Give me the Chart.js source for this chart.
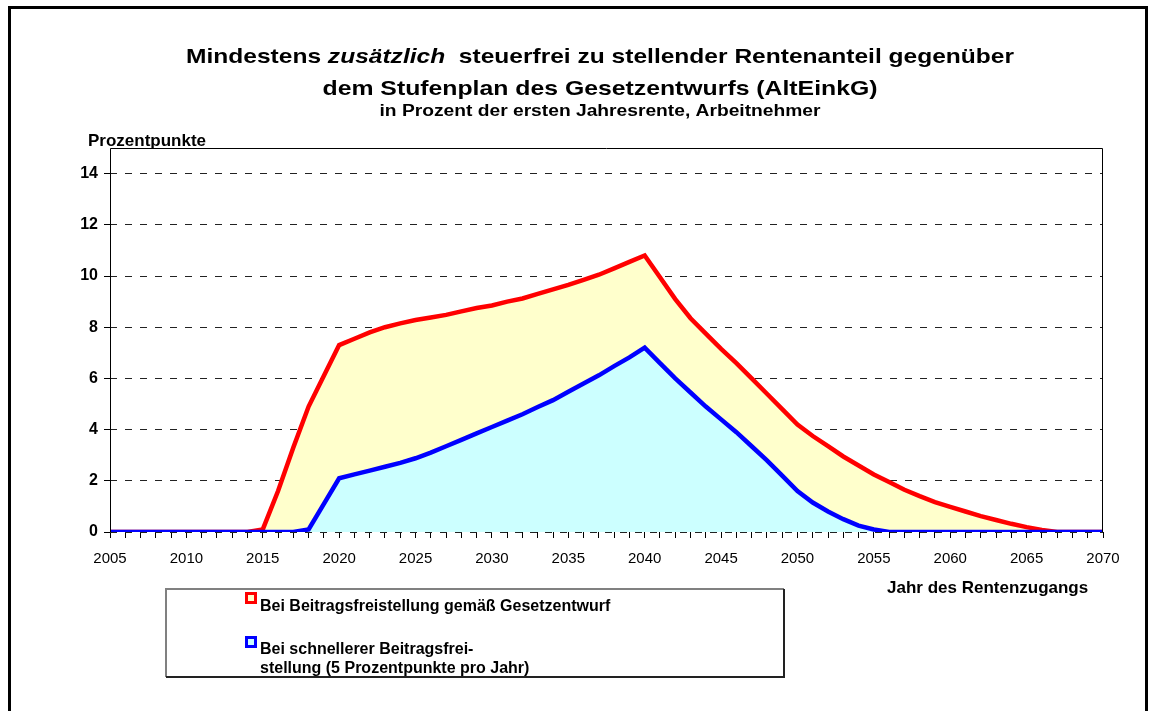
<!DOCTYPE html>
<html><head><meta charset="utf-8">
<script src="https://cdn.jsdelivr.net/npm/chart.js@4.4.1/dist/chart.umd.min.js"></script>
<style>html,body{margin:0;padding:0;background:#fff;overflow:hidden}</style>
</head><body>
<canvas id="c" width="1149" height="711"></canvas>
<script>
// ---- data ----
const years = [2005,2006,2007,2008,2009,2010,2011,2012,2013,2014,
  2015,2016,2017,2018,2019,2020,2021,2022,2023,2024,
  2025,2026,2027,2028,2029,2030,2031,2032,2033,2034,
  2035,2036,2037,2038,2039,2040,2041,2042,2043,2044,
  2045,2046,2047,2048,2049,2050,2051,2052,2053,2054,
  2055,2056,2057,2058,2059,2060,2061,2062,2063,2064,
  2065,2066,2067,2068,2069,2070];
const redValues = [0,0,0,0,0,0,0,0,0,0,
  0.1,1.6,3.3,4.9,6.1,7.3,7.55,7.8,8.0,8.15,
  8.28,8.38,8.48,8.62,8.75,8.85,9.0,9.12,9.3,9.48,
  9.65,9.85,10.05,10.3,10.55,10.8,9.95,9.1,8.35,7.75,
  7.15,6.6,6.0,5.4,4.8,4.2,3.75,3.35,2.95,2.6,
  2.25,1.95,1.65,1.4,1.17,0.98,0.8,0.62,0.47,0.32,
  0.19,0.08,0,0,0,0];
const blueValues = [0,0,0,0,0,0,0,0,0,0,
  0,0,0,0.1,1.1,2.1,2.25,2.4,2.55,2.7,
  2.88,3.1,3.35,3.6,3.85,4.1,4.35,4.6,4.88,5.15,
  5.48,5.8,6.12,6.48,6.82,7.2,6.6,6.0,5.45,4.9,
  4.4,3.9,3.35,2.8,2.2,1.6,1.15,0.8,0.5,0.25,
  0.1,0,0,0,0,0,0,0,0,0,
  0,0,0,0,0,0];
const yTickValues = [0,2,4,6,8,10,12,14];
const xLabelYears = [2005,2010,2015,2020,2025,2030,2035,2040,2045,2050,2055,2060,2065,2070];
const seriesNames = ['Bei Beitragsfreistellung gemäß Gesetzentwurf',
  'Bei schnellerer Beitragsfrei-', 'stellung (5 Prozentpunkte pro Jahr)'];
const titleRuns = [['Mindestens ', false], ['zusätzlich', true], ['  steuerfrei zu stellender Rentenanteil gegenüber', false]];
const titleLine2 = 'dem Stufenplan des Gesetzentwurfs (AltEinkG)';
const subtitle = 'in Prozent der ersten Jahresrente, Arbeitnehmer';
const yAxisTitle = 'Prozentpunkte';
const xAxisTitle = 'Jahr des Rentenzugangs';

const FF = '"Liberation Sans", Arial, Helvetica, sans-serif';

function drawRuns(ctx, runs, cx, base, size, targetW) {
  ctx.save();
  let total = 0;
  const widths = runs.map(r => { ctx.font = (r[1] ? 'italic ' : '') + 'bold ' + size + 'px ' + FF; const w = ctx.measureText(r[0]).width; total += w; return w; });
  const sx = targetW / total;
  ctx.translate(cx, base);
  ctx.scale(sx, 1);
  let x = -total / 2;
  ctx.textBaseline = 'alphabetic';
  ctx.textAlign = 'left';
  ctx.fillStyle = '#000';
  runs.forEach((r, i) => { ctx.font = (r[1] ? 'italic ' : '') + 'bold ' + size + 'px ' + FF; ctx.fillText(r[0], x, 0); x += widths[i]; });
  ctx.restore();
}

const decor = {
  id: 'decor',
  beforeDraw(chart) {
    const ctx = chart.ctx;
    ctx.save();
    ctx.fillStyle = '#fff';
    ctx.fillRect(0, 0, chart.width, chart.height);
    ctx.lineWidth = 3;
    ctx.strokeStyle = '#000';
    ctx.strokeRect(9.5, 7.5, 1137, 730);
    ctx.restore();
  },
  afterDatasetsDraw(chart) {
    const ctx = chart.ctx, a = chart.chartArea;
    ctx.save();
    ctx.strokeStyle = '#000';
    ctx.lineWidth = 1;
    ctx.beginPath();
    ctx.moveTo(Math.round(a.left) + 0.5, Math.round(a.bottom));
    ctx.lineTo(Math.round(a.left) + 0.5, Math.round(a.top) + 0.5);
    ctx.lineTo(Math.round(a.right) - 0.5, Math.round(a.top) + 0.5);
    ctx.lineTo(Math.round(a.right) - 0.5, Math.round(a.bottom));
    ctx.stroke();
    ctx.restore();
  },
  afterDraw(chart) {
    const ctx = chart.ctx;
    drawRuns(ctx, titleRuns, 600, 63, 21, 828);
    drawRuns(ctx, [[titleLine2, false]], 600, 95, 21, 555);
    drawRuns(ctx, [[subtitle, false]], 600, 116, 16, 441);
    ctx.save();
    ctx.fillStyle = '#000';
    ctx.textBaseline = 'alphabetic';
    ctx.textAlign = 'left';
    ctx.font = 'bold 17px ' + FF;
    ctx.fillText(yAxisTitle, 88, 146);
    ctx.fillText(xAxisTitle, 887, 593);
    // legend box
    ctx.fillStyle = '#fff';
    ctx.fillRect(166, 589, 618, 88);
    ctx.lineWidth = 2;
    ctx.strokeStyle = '#808080';
    ctx.beginPath(); ctx.moveTo(166, 677); ctx.lineTo(166, 589); ctx.lineTo(784, 589); ctx.stroke();
    ctx.strokeStyle = '#222';
    ctx.beginPath(); ctx.moveTo(784, 589); ctx.lineTo(784, 677); ctx.lineTo(166, 677); ctx.stroke();
    const ds = chart.data.datasets;
    const marks = [[ds[0], 592], [ds[1], 636]];
    marks.forEach(([d, y]) => {
      ctx.fillStyle = d.backgroundColor;
      ctx.fillRect(245, y, 12, 12);
      ctx.lineWidth = 3;
      ctx.strokeStyle = d.borderColor;
      ctx.strokeRect(246.5, y + 1.5, 9, 9);
    });
    ctx.fillStyle = '#000';
    ctx.font = 'bold 16px ' + FF;
    ctx.fillText(seriesNames[0], 260, 611);
    ctx.fillText(seriesNames[1], 260, 654);
    ctx.fillText(seriesNames[2], 260, 673);
    ctx.restore();
  }
};

new Chart(document.getElementById('c'), {
  type: 'line',
  data: {
    datasets: [
      { label: seriesNames[0], data: years.map((y, i) => ({x: y, y: redValues[i]})),
        borderColor: '#FF0000', backgroundColor: '#FFFFCC', borderWidth: 4.5, fill: 'origin',
        pointRadius: 0, tension: 0, order: 2 },
      { label: seriesNames[1] + seriesNames[2], data: years.map((y, i) => ({x: y, y: blueValues[i]})),
        borderColor: '#0000FF', backgroundColor: '#CCFFFF', borderWidth: 4.5, fill: 'origin',
        pointRadius: 0, tension: 0, order: 1 }
    ]
  },
  options: {
    responsive: false,
    animation: false,
    events: [],
    devicePixelRatio: 1,
    layout: { padding: { left: 0, right: 46, top: 148, bottom: 129 } },
    plugins: { legend: { display: false }, tooltip: { enabled: false }, title: { display: false } },
    scales: {
      x: {
        type: 'linear', min: 2005, max: 2070,
        afterFit(s) { s.height = 50; },
        grid: { display: true, drawOnChartArea: false, drawTicks: true, tickLength: 6, color: '#000' },
        border: { display: false },
        ticks: { stepSize: 1, autoSkip: false, maxRotation: 0, minRotation: 0, maxTicksLimit: 100, padding: 12,
          color: '#000', font: { family: FF, size: 15 },
          callback: v => xLabelYears.includes(Math.round(v)) ? String(Math.round(v)) : '' }
      },
      y: {
        min: 0, max: 15,
        afterFit(s) { s.width = 110; },
        afterBuildTicks(s) { s.ticks = yTickValues.map(v => ({ value: v })); },
        grid: { display: true, drawTicks: true, tickLength: 6, color: '#222', tickColor: '#000', tickBorderDash: [] },
        border: { display: false, dash: [7, 8] },
        ticks: { padding: 6, color: '#000', font: { family: FF, size: 16, weight: 'bold' } }
      }
    }
  },
  plugins: [decor]
});
</script>
</body></html>
